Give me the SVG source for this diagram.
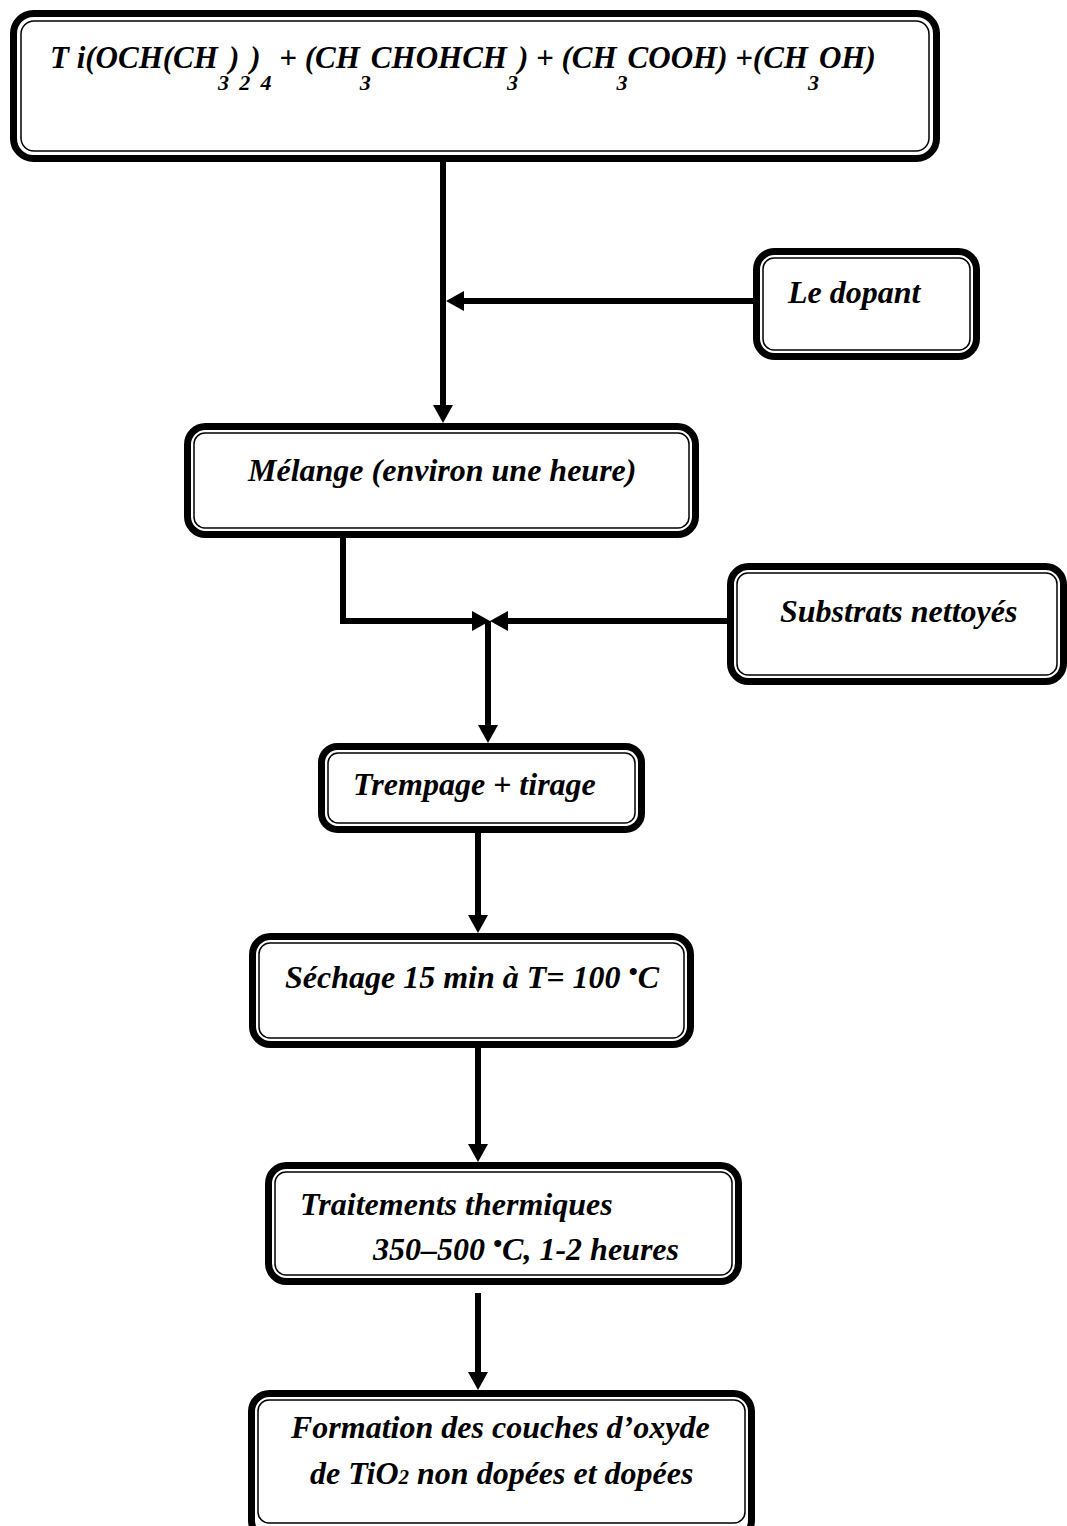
<svg xmlns="http://www.w3.org/2000/svg" width="1067" height="1526" viewBox="0 0 1067 1526">
<style>
.o{fill:#fff;stroke:#000;stroke-width:7}
.i{fill:none;stroke:#000;stroke-width:1.5}
.t{font-family:"Liberation Serif","Times New Roman",serif;font-weight:bold;font-style:italic;font-size:32px;fill:#000}
.c{fill:none;stroke:#000;stroke-width:6}
.s{font-size:22px}
</style>
<defs>
<marker id="ah" markerUnits="userSpaceOnUse" markerWidth="18" markerHeight="20" viewBox="0 0 18 20" refX="8" refY="10" orient="auto">
<path d="M0,0 L18,10 L0,20 Z" fill="#000"/>
</marker>
</defs>
<rect width="1067" height="1526" fill="#fff"/>

<g id="connectors">
<path class="c" d="M443,162 V413" marker-end="url(#ah)"/>
<path class="c" d="M753,301 H456" marker-end="url(#ah)"/>
<path class="c" d="M343,537 V621 H480" marker-end="url(#ah)"/>
<path class="c" d="M727,621 H500" marker-end="url(#ah)"/>
<path class="c" d="M488,621 V733" marker-end="url(#ah)"/>
<path class="c" d="M478,833 V923" marker-end="url(#ah)"/>
<path class="c" d="M478,1048 V1152" marker-end="url(#ah)"/>
<path class="c" d="M478,1293 V1380" marker-end="url(#ah)"/>
</g>

<g id="n-precurseurs">
<rect class="o" x="13.5" y="13.5" width="923" height="145" rx="20"/>
<rect class="i" x="21" y="21" width="908" height="130" rx="13"/>
<text class="t" x="50" y="68" style="font-size:31px">T i(OCH(CH<tspan class="s" dy="22">3</tspan><tspan dy="-22">)</tspan><tspan class="s" dy="22">2</tspan><tspan dy="-22">)</tspan><tspan class="s" dy="22">4</tspan><tspan dy="-22"> + (CH</tspan><tspan class="s" dy="22">3</tspan><tspan dy="-22">CHOHCH</tspan><tspan class="s" dy="22">3</tspan><tspan dy="-22">) + (CH</tspan><tspan class="s" dy="22">3</tspan><tspan dy="-22">COOH) +(CH</tspan><tspan class="s" dy="22">3</tspan><tspan dy="-22">OH)</tspan></text>
</g>

<g id="n-dopant">
<rect class="o" x="756.5" y="251.5" width="220" height="105" rx="18"/>
<rect class="i" x="763" y="258" width="207" height="92" rx="11"/>
<text class="t" x="788" y="303">Le dopant</text>
</g>

<g id="n-melange">
<rect class="o" x="187.5" y="426.5" width="508" height="108" rx="18"/>
<rect class="i" x="194" y="433" width="495" height="95" rx="11"/>
<text class="t" x="248" y="481">Mélange (environ une heure)</text>
</g>

<g id="n-substrats">
<rect class="o" x="730.5" y="566.5" width="333" height="115" rx="18"/>
<rect class="i" x="737" y="573" width="320" height="102" rx="11"/>
<text class="t" x="780" y="622">Substrats nettoyés</text>
</g>

<g id="n-trempage">
<rect class="o" x="321.5" y="746.5" width="320" height="83" rx="16"/>
<rect class="i" x="328" y="753" width="307" height="70" rx="10"/>
<text class="t" x="353" y="795">Trempage + tirage</text>
</g>

<g id="n-sechage">
<rect class="o" x="252.5" y="936.5" width="438" height="108" rx="18"/>
<rect class="i" x="259" y="943" width="425" height="95" rx="11"/>
<text class="t" x="285" y="988">Séchage 15 min à T= 100 <tspan dy="-8" style="font-size:26px">•</tspan><tspan dy="8">C</tspan></text>
</g>

<g id="n-traitements">
<rect class="o" x="268.5" y="1165.5" width="470" height="116" rx="18"/>
<rect class="i" x="275" y="1172" width="457" height="103" rx="11"/>
<text class="t" x="300" y="1215">Traitements thermiques</text>
<text class="t" x="373" y="1260">350–500 <tspan dy="-8" style="font-size:26px">•</tspan><tspan dy="8">C, 1-2 heures</tspan></text>
</g>

<g id="n-formation">
<rect class="o" x="251.5" y="1393.5" width="500" height="145" rx="18"/>
<rect class="i" x="258" y="1400" width="487" height="123" rx="11"/>
<text class="t" x="291" y="1438">Formation des couches d’oxyde</text>
<text class="t" x="310" y="1484">de TiO<tspan style="font-size:21px">2</tspan> non dopées et dopées</text>
</g>
</svg>
